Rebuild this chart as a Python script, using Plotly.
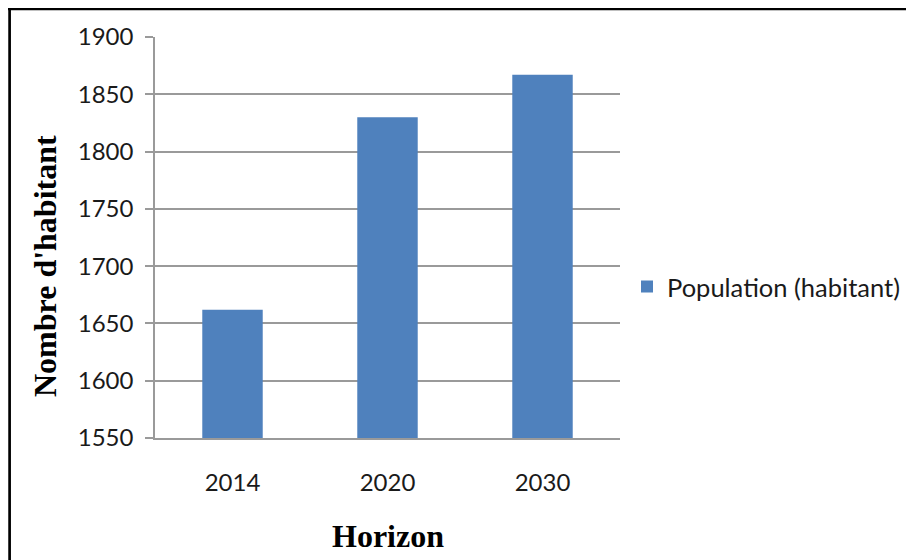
import plotly.graph_objects as go

categories = ["2014", "2020", "2030"]
population = [1662, 1830, 1867]
y_ticks = [1550, 1600, 1650, 1700, 1750, 1800, 1850, 1900]

# page body has an 8px default margin, so the figure is 906x552
W, H = 906, 552
L, R, T, B = 147, 294, 29, 122
pw, ph = W - L - R, H - T - B

def px(x):
    return (x - L) / pw

def py(y):
    return (H - B - y) / ph

fig = go.Figure()
fig.add_trace(go.Bar(
    x=categories, y=population, name="Population (habitant)",
    marker=dict(color="#4F81BD", line=dict(width=0)),
    showlegend=True,
))

tick_font = dict(family="Lato, Open Sans, sans-serif", size=24, color="#1a1a1a")

fig.update_layout(
    width=W, height=H,
    margin=dict(l=L, r=R, t=T, b=B, autoexpand=False),
    paper_bgcolor="white", plot_bgcolor="white",
    bargap=0.61,
    showlegend=True,
    legend=dict(x=px(619), y=py(279), xanchor="left", yanchor="middle",
                font=dict(family="Lato, Open Sans, sans-serif", size=25.5, color="#1a1a1a"),
                bgcolor="rgba(0,0,0,0)"),
    xaxis=dict(type="category", showline=True, linecolor="#9a9a9a", linewidth=1.5,
               showgrid=False, ticks="", tickfont=tick_font, ticklabelstandoff=22),
    yaxis=dict(range=[1550, 1900], tickvals=y_ticks, showline=True, linecolor="#9a9a9a",
               linewidth=1.5, showgrid=True, gridcolor="#9a9a9a", gridwidth=1.5,
               ticks="outside", ticklen=8, tickcolor="#9a9a9a", tickwidth=1.5,
               tickfont=tick_font, ticklabelstandoff=7, zeroline=False),
    annotations=[
        dict(text="<b>Horizon</b>", xref="paper", yref="paper", x=px(380), y=py(528),
             xanchor="center", yanchor="middle", showarrow=False,
             font=dict(family="Liberation Serif, Times New Roman, serif", size=32, color="black")),
        dict(text="<b>Nombre d'habitant</b>", xref="paper", yref="paper", x=px(37), y=py(258),
             xanchor="center", yanchor="middle", textangle=-90, showarrow=False,
             font=dict(family="Liberation Serif, Times New Roman, serif", size=32, color="black")),
    ],
    shapes=[
        dict(type="line", xref="paper", yref="paper", x0=px(0), x1=px(W + 10), y0=py(1), y1=py(1),
             line=dict(color="black", width=2.7)),
        dict(type="line", xref="paper", yref="paper", x0=px(1.6), x1=px(1.6), y0=py(0), y1=py(H + 10),
             line=dict(color="black", width=2.7)),
    ],
)

fig.write_html("out.html")
